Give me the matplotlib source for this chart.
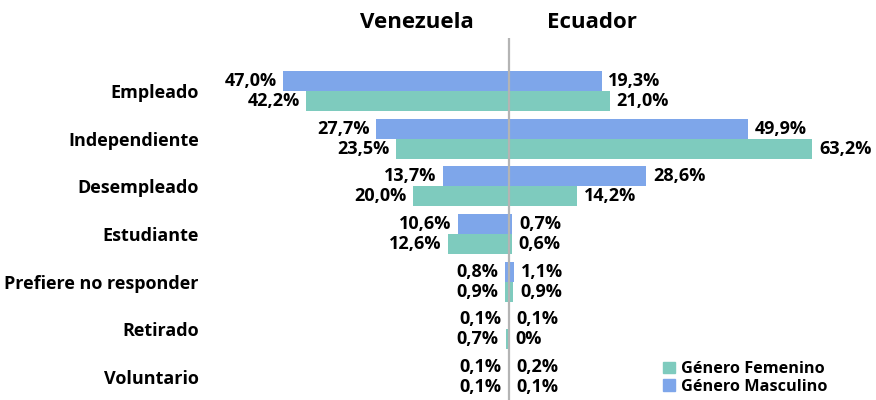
import matplotlib
matplotlib.use("Agg")
import matplotlib.pyplot as plt
from matplotlib.patches import Patch

categories = ["Empleado", "Independiente", "Desempleado", "Estudiante",
              "Prefiere no responder", "Retirado", "Voluntario"]
ven_masc = [47.0, 27.7, 13.7, 10.6, 0.8, 0.1, 0.1]
ven_fem = [42.2, 23.5, 20.0, 12.6, 0.9, 0.7, 0.1]
ecu_masc = [19.3, 49.9, 28.6, 0.7, 1.1, 0.1, 0.2]
ecu_fem = [21.0, 63.2, 14.2, 0.6, 0.9, 0.0, 0.1]

BLUE = "#7ea6ea"
TEAL = "#7ecbbe"
FONT = "Open Sans"


def fmt(v):
    if v == 0:
        return "0%"
    return f"{v:.1f}%".replace(".", ",")


fig = plt.figure(figsize=(8.76, 4.0), dpi=100)
ax = fig.add_axes([210 / 876, 0.0, 666 / 876, 0.905])

ys = [-i for i in range(len(categories))]
h = 0.42
y_m = [y + h / 2 for y in ys]
y_f = [y - h / 2 for y in ys]

ax.barh(y_m, [-v for v in ven_masc], height=h, color=BLUE)
ax.barh(y_f, [-v for v in ven_fem], height=h, color=TEAL)
ax.barh(y_m, ecu_masc, height=h, color=BLUE)
ax.barh(y_f, ecu_fem, height=h, color=TEAL)

ax.axvline(0, color="#b4b4b4", lw=1.6, zorder=5)

ax.set_xlim(-62.3, 76.5)
ax.set_ylim(-6.48, 1.11)

lab = dict(fontsize=13, fontweight="bold", family=FONT, va="center")
off = 1.4
for y, vm, vf in zip(ys, ven_masc, ven_fem):
    ax.text(-vm - off, y + h / 2, fmt(vm), ha="right", **lab)
    ax.text(-vf - off, y - h / 2, fmt(vf), ha="right", **lab)
for y, vm, vf in zip(ys, ecu_masc, ecu_fem):
    ax.text(vm + off, y + h / 2, fmt(vm), ha="left", **lab)
    ax.text(vf + off, y - h / 2, fmt(vf), ha="left", **lab)

ax.set_yticks(ys)
ax.set_yticklabels(categories, fontsize=13, fontweight="bold", family=FONT)
ax.tick_params(axis="y", length=0, pad=8)
ax.set_xticks([])
for s in ax.spines.values():
    s.set_visible(False)

fig.text(417 / 876, 1 - 22 / 400, "Venezuela", ha="center", va="center",
         fontsize=16, fontweight="bold", family=FONT)
fig.text(592 / 876, 1 - 22 / 400, "Ecuador", ha="center", va="center",
         fontsize=16, fontweight="bold", family=FONT)

handles = [Patch(color=TEAL, label="Género Femenino"),
           Patch(color=BLUE, label="Género Masculino")]
fig.legend(handles=handles, loc="lower left", bbox_to_anchor=(652 / 876, -0.015),
           frameon=False, handlelength=0.7, handleheight=0.7, handletextpad=0.4,
           labelspacing=0.1, borderpad=0.2,
           prop={"family": FONT, "weight": "bold", "size": 11.7})

fig.savefig("out.png", dpi=100)
